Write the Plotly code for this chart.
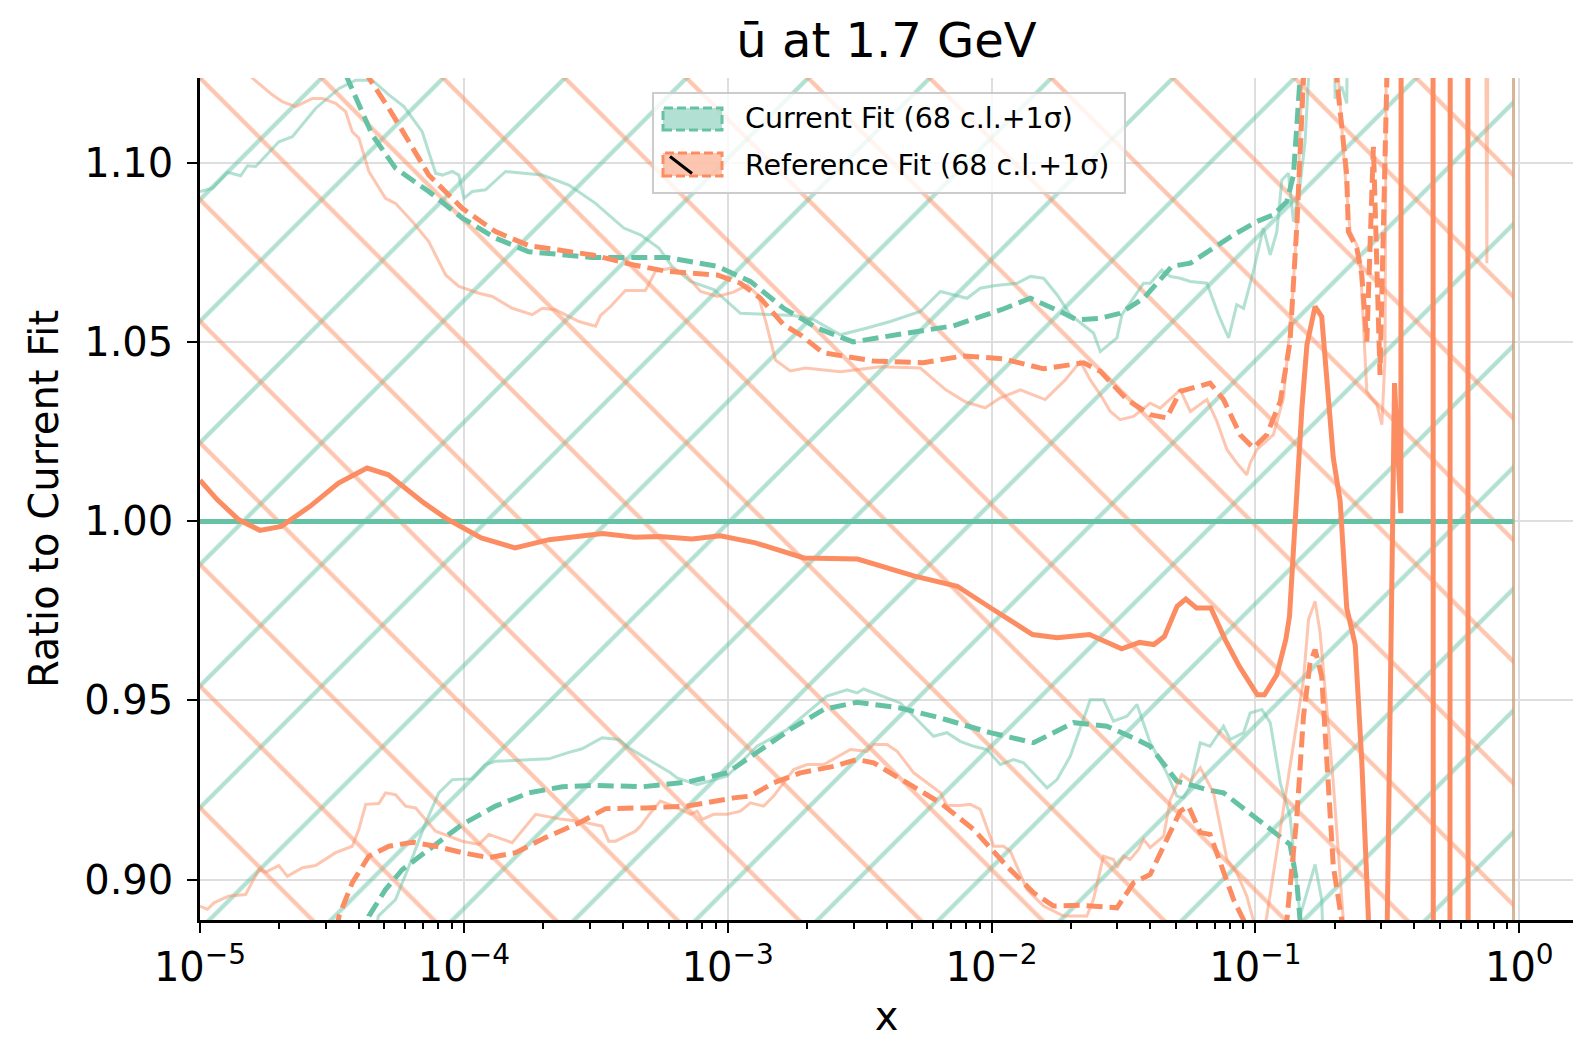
import numpy as np
import plotly.graph_objects as go

GREEN = "#66c2a5"
ORANGE = "#fc8d62"
GREEN_A = "rgba(102,194,165,0.5)"
ORANGE_A = "rgba(252,141,98,0.5)"

# ---------------- data (log10 x, ratio) ----------------
grid_logx = [-5.0, -0.022]          # first / last point of the x grid
cur_cv = [1.0, 1.0]                 # current fit ratio to itself
hatch_span = [0.0, 2.0]             # band envelope used for hatch fill

ref_cv_logx = [-5.0, -4.935, -4.854, -4.773, -4.692, -4.583, -4.475, -4.367, -4.286, -4.150,
               -4.069, -3.934, -3.806, -3.677, -3.474, -3.352, -3.258, -3.136, -3.028, -2.895,
               -2.711, -2.508, -2.292, -2.130, -1.994, -1.845, -1.751, -1.629, -1.507, -1.439,
               -1.385, -1.345, -1.297, -1.264, -1.223, -1.169, -1.115, -1.061, -0.993, -0.966,
               -0.919, -0.885, -0.871, -0.856, -0.843, -0.824, -0.805, -0.774, -0.749, -0.730,
               -0.705, -0.679, -0.654, -0.622, -0.597, -0.572, -0.535, -0.473, -0.449, -0.433,
               -0.334, -0.319, -0.270, -0.255, -0.202, -0.187, -0.022]
ref_cv = [1.0115, 1.0061, 1.0005, 0.9975, 0.9986, 1.0042, 1.0107, 1.0149, 1.0130, 1.0051,
          1.0009, 0.9954, 0.9926, 0.9949, 0.9966, 0.9956, 0.9958, 0.9951, 0.9960, 0.9940,
          0.9898, 0.9895, 0.9847, 0.9819, 0.9754, 0.9684, 0.9675, 0.9684, 0.9644, 0.9662,
          0.9656, 0.9679, 0.9763, 0.9783, 0.9758, 0.9758, 0.9670, 0.9595, 0.9516, 0.9516,
          0.9572, 0.9670, 0.9735, 0.9935, 1.0074, 1.0316, 1.0493, 1.0600, 1.0572, 1.0409,
          1.0177, 1.0056, 0.9758, 0.9656, 0.9330, 0.8893, 0.70, 1.0386, 1.0023, 3.0,
          3.0, -1.0, -1.0, 3.0, 3.0, -1.0, -1.0]

ref_up_logx = [-5.0, -4.448, -4.360, -4.284, -4.208, -4.133, -4.006, -3.880, -3.754, -3.514,
               -3.356, -3.230, -3.040, -2.952, -2.876, -2.788, -2.725, -2.639, -2.449, -2.259,
               -2.107, -1.956, -1.803, -1.651, -1.588, -1.487, -1.399, -1.336, -1.285, -1.209,
               -1.172, -1.121, -1.058, -1.008, -0.957, -0.906, -0.869, -0.843, -0.818, -0.793,
               -0.717, -0.692, -0.679, -0.654, -0.648, -0.616, -0.597, -0.578, -0.553, -0.528,
               -0.502, -0.482, -0.022]
ref_up = [1.30, 1.150, 1.1238, 1.1153, 1.1060, 1.0967, 1.0874, 1.0809, 1.0770, 1.0744,
          1.0716, 1.0698, 1.0688, 1.0665, 1.0623, 1.0549, 1.0521, 1.0471, 1.0448, 1.0443,
          1.0462, 1.0454, 1.0426, 1.0443, 1.0419, 1.0340, 1.0298, 1.0289, 1.0363, 1.0377,
          1.0386, 1.0340, 1.0242, 1.0205, 1.0242, 1.0335, 1.0502, 1.0828, 1.1238, 1.25,
          1.25, 1.1238, 1.1153, 1.0967, 1.0809, 1.0763, 1.0688, 1.0502, 1.1046, 1.0409,
          1.1238, 1.40, 1.40]

ref_dn_logx = [-5.0, -4.543, -4.473, -4.423, -4.360, -4.284, -4.195, -4.107, -4.006, -3.905,
               -3.804, -3.691, -3.564, -3.463, -3.312, -3.154, -2.977, -2.914, -2.826, -2.725,
               -2.598, -2.510, -2.447, -2.320, -2.194, -2.068, -1.942, -1.841, -1.765, -1.664,
               -1.525, -1.462, -1.399, -1.336, -1.285, -1.254, -1.209, -1.172, -1.121, -1.083,
               -1.045, -1.001, -0.925, -0.881, -0.843, -0.818, -0.793, -0.774, -0.749, -0.730,
               -0.705, -0.673, -0.649, -0.022]
ref_dn = [0.75, 0.86, 0.8898, 0.8991, 0.9065, 0.9093, 0.9104, 0.9093, 0.9075, 0.9061,
          0.9075, 0.9117, 0.9158, 0.9198, 0.9200, 0.9205, 0.9228, 0.9233, 0.9270, 0.9298,
          0.9316, 0.9335, 0.9326, 0.9270, 0.9214, 0.9140, 0.9037, 0.8963, 0.8926, 0.8928,
          0.8921, 0.8991, 0.9014, 0.9112, 0.9191, 0.9205, 0.9131, 0.9126, 0.9019, 0.8944,
          0.8887, 0.86, 0.86, 0.8887, 0.9177, 0.9456, 0.9605, 0.9642, 0.9568, 0.9316,
          0.9037, 0.8887, 0.80, 0.60]

cur_up_logx = [-5.0, -4.524, -4.442, -4.347, -4.259, -4.133, -4.006, -3.880, -3.754, -3.514,
               -3.230, -3.040, -2.914, -2.788, -2.661, -2.525, -2.335, -2.145, -1.956, -1.853,
               -1.740, -1.677, -1.588, -1.513, -1.424, -1.317, -1.247, -1.172, -1.083, -0.995,
               -0.932, -0.881, -0.856, -0.831, -0.808, -0.022]
cur_up = [1.30, 1.16, 1.1238, 1.1079, 1.0986, 1.0921, 1.0847, 1.0791, 1.0753, 1.0737,
          1.0737, 1.0712, 1.0670, 1.0595, 1.0540, 1.0501, 1.0524, 1.0546, 1.0593, 1.0623,
          1.0586, 1.0563, 1.0567, 1.0581, 1.0623, 1.0712, 1.0721, 1.0758, 1.0800, 1.0837,
          1.0856, 1.0893, 1.0967, 1.1238, 1.40, 1.40]

cur_dn_logx = [-5.0, -4.448, -4.360, -4.297, -4.233, -4.133, -4.006, -3.880, -3.754, -3.627,
               -3.501, -3.324, -3.154, -3.002, -2.889, -2.763, -2.636, -2.510, -2.346, -2.194,
               -2.005, -1.841, -1.689, -1.563, -1.449, -1.399, -1.298, -1.184, -1.121, -0.995,
               -0.869, -0.843, -0.831, -0.808, -0.022]
cur_dn = [0.75, 0.86, 0.8898, 0.8972, 0.9028, 0.9084, 0.9154, 0.9205, 0.9242, 0.9259,
          0.9263, 0.9259, 0.9272, 0.9298, 0.9354, 0.9419, 0.9475, 0.9495, 0.9479, 0.9451,
          0.9410, 0.9382, 0.9438, 0.9428, 0.9391, 0.9372, 0.9275, 0.9251, 0.9242, 0.9168,
          0.9098, 0.8991, 0.8887, 0.70, 0.60]

cur68_up_logx = [-5.0, -4.953, -4.896, -4.846, -4.820, -4.789, -4.701, -4.650, -4.562, -4.473,
                 -4.410, -4.347, -4.284, -4.227, -4.158, -4.107, -4.082, -4.044, -4.019, -4.000,
                 -3.968, -3.918, -3.842, -3.703, -3.602, -3.501, -3.394, -3.331, -3.261, -3.211,
                 -3.141, -3.053, -2.952, -2.851, -2.750, -2.674, -2.573, -2.472, -2.384, -2.270,
                 -2.194, -2.093, -2.043, -1.992, -1.904, -1.853, -1.803, -1.752, -1.702, -1.614,
                 -1.588, -1.525, -1.506, -1.424, -1.399, -1.355, -1.323, -1.285, -1.247, -1.184,
                 -1.140, -1.102, -1.071, -1.045, -1.008, -0.970, -0.944, -0.919, -0.900, -0.875,
                 -0.856, -0.831, -0.812, -0.799, -0.785, -0.717, -0.698, -0.673, -0.654, -0.638,
                 -0.022]
cur68_up = [1.0921, 1.0930, 1.0975, 1.0965, 1.0993, 1.0991, 1.1060, 1.1074, 1.1153, 1.1209,
            1.1232, 1.1232, 1.1191, 1.1158, 1.1088, 1.0972, 1.0967, 1.0977, 1.0967, 1.0902,
            1.0921, 1.0926, 1.0977, 1.0967, 1.0939, 1.0888, 1.0819, 1.0800, 1.0763, 1.0712,
            1.0670, 1.0647, 1.0581, 1.0579, 1.0575, 1.0563, 1.0521, 1.0540, 1.0558, 1.0586,
            1.0642, 1.0623, 1.0651, 1.0658, 1.0665, 1.0684, 1.0679, 1.0633, 1.0577, 1.0526,
            1.0474, 1.0512, 1.0577, 1.0665, 1.0665, 1.0702, 1.0684, 1.0679, 1.0670, 1.0665,
            1.0577, 1.0512, 1.0605, 1.0595, 1.0698, 1.0819, 1.0744, 1.0809, 1.0953, 1.0972,
            1.0837, 1.0939, 1.1060, 1.1238, 1.25, 1.25, 1.1181, 1.1214, 1.1167, 1.25,
            1.40]

cur68_dn_logx = [-5.0, -4.391, -4.324, -4.259, -4.208, -4.145, -4.095, -4.044, -3.968, -3.918,
                 -3.880, -3.678, -3.602, -3.552, -3.476, -3.413, -3.375, -3.312, -3.217, -3.192,
                 -3.116, -3.002, -2.889, -2.775, -2.624, -2.548, -2.510, -2.485, -2.447, -2.346,
                 -2.295, -2.220, -2.169, -2.119, -2.068, -2.017, -1.967, -1.917, -1.879, -1.790,
                 -1.752, -1.702, -1.626, -1.576, -1.538, -1.487, -1.449, -1.399, -1.336, -1.298,
                 -1.273, -1.247, -1.209, -1.172, -1.121, -1.096, -1.045, -1.020, -0.976, -0.944,
                 -0.906, -0.869, -0.831, -0.812, -0.774, -0.749, -0.732, -0.698, -0.022]
cur68_dn = [0.70, 0.86, 0.8898, 0.8944, 0.9037, 0.9158, 0.9242, 0.9279, 0.9281, 0.9321,
            0.9330, 0.9337, 0.9355, 0.9365, 0.9396, 0.9391, 0.9368, 0.9340, 0.9298, 0.9284,
            0.9265, 0.9289, 0.9372, 0.9419, 0.9512, 0.9530, 0.9521, 0.9532, 0.9521, 0.9493,
            0.9456, 0.9400, 0.9410, 0.9386, 0.9372, 0.9363, 0.9321, 0.9335, 0.9326, 0.9256,
            0.9279, 0.9344, 0.9502, 0.9502, 0.9442, 0.9456, 0.9489, 0.9382, 0.9298, 0.9233,
            0.9228, 0.9261, 0.9382, 0.9372, 0.9428, 0.9391, 0.9410, 0.9465, 0.9475, 0.9438,
            0.9270, 0.9177, 0.8898, 0.8944, 0.9042, 0.8944, 0.86, 0.70, 0.60]

ref68_up_logx = [-5.0, -4.846, -4.802, -4.726, -4.688, -4.638, -4.574, -4.536, -4.486, -4.448,
                 -4.423, -4.398, -4.360, -4.297, -4.259, -4.195, -4.133, -4.069, -4.019, -3.943,
                 -3.892, -3.817, -3.741, -3.703, -3.653, -3.564, -3.501, -3.482, -3.444, -3.388,
                 -3.312, -3.274, -3.217, -3.160, -3.103, -3.039, -2.978, -2.925, -2.884, -2.853,
                 -2.819, -2.763, -2.706, -2.573, -2.422, -2.270, -2.175, -2.100, -2.024, -1.967,
                 -1.891, -1.797, -1.721, -1.664, -1.626, -1.588, -1.550, -1.513, -1.462, -1.399,
                 -1.361, -1.285, -1.247, -1.184, -1.146, -1.108, -1.071, -1.033, -1.020, -0.995,
                 -0.932, -0.894, -0.862, -0.843, -0.824, -0.808, -0.709, -0.686, -0.660, -0.641,
                 -0.616, -0.603, -0.578, -0.566, -0.540, -0.521, -0.509, -0.502, -0.490, -0.145,
                 -0.123, -0.103, -0.022]
ref68_up = [1.30, 1.15, 1.1238, 1.1191, 1.1172, 1.1158, 1.1181, 1.1181, 1.1167, 1.1144,
            1.1088, 1.1070, 1.0977, 1.0902, 1.0888, 1.0837, 1.0781, 1.0688, 1.0656, 1.0637,
            1.0628, 1.0595, 1.0577, 1.0595, 1.0591, 1.0558, 1.0545, 1.0575, 1.0600, 1.0645,
            1.0645, 1.0698, 1.0707, 1.0690, 1.0642, 1.0628, 1.0640, 1.0660, 1.0630, 1.0550,
            1.0450, 1.0420, 1.0428, 1.0418, 1.0432, 1.0428, 1.0368, 1.0334, 1.0317, 1.0345,
            1.0367, 1.0340, 1.0395, 1.0446, 1.0395, 1.0354, 1.0307, 1.0284, 1.0293, 1.0330,
            1.0316, 1.0367, 1.0307, 1.0340, 1.0279, 1.0200, 1.0163, 1.0130, 1.0163, 1.0200,
            1.0242, 1.0344, 1.0595, 1.0828, 1.1238, 1.25, 1.25, 1.1238, 1.0967, 1.0809,
            1.0772, 1.0725, 1.0363, 1.0349, 1.0326, 1.0270, 1.0456, 1.1238, 1.40, 1.40,
            1.0721, 1.40, 1.40]

ref68_dn_logx = [-5.0, -4.972, -4.947, -4.890, -4.827, -4.777, -4.751, -4.701, -4.669, -4.612,
                 -4.562, -4.486, -4.423, -4.398, -4.372, -4.322, -4.297, -4.259, -4.221, -4.183,
                 -4.107, -4.006, -3.943, -3.905, -3.817, -3.728, -3.627, -3.564, -3.476, -3.451,
                 -3.425, -3.350, -3.331, -3.293, -3.255, -3.205, -3.141, -3.116, -3.097, -3.053,
                 -3.002, -2.952, -2.914, -2.864, -2.826, -2.750, -2.699, -2.636, -2.535, -2.472,
                 -2.447, -2.396, -2.358, -2.295, -2.194, -2.169, -2.119, -2.081, -2.043, -1.992,
                 -1.955, -1.929, -1.866, -1.803, -1.727, -1.639, -1.614, -1.576, -1.538, -1.525,
                 -1.500, -1.475, -1.443, -1.424, -1.399, -1.348, -1.323, -1.279, -1.247, -1.209,
                 -1.159, -1.108, -1.071, -1.033, -1.008, -0.982, -0.957, -0.906, -0.856, -0.818,
                 -0.799, -0.774, -0.755, -0.730, -0.705, -0.667, -0.641, -0.022]
ref68_dn = [0.8926, 0.8917, 0.8935, 0.8954, 0.8958, 0.9028, 0.9021, 0.9039, 0.9009, 0.9033,
            0.9039, 0.9075, 0.9093, 0.9140, 0.9210, 0.9212, 0.9242, 0.9237, 0.9205, 0.9200,
            0.9135, 0.9107, 0.9098, 0.9126, 0.9103, 0.9182, 0.9168, 0.9163, 0.9149, 0.9107,
            0.9107, 0.9135, 0.9149, 0.9186, 0.9219, 0.9205, 0.9182, 0.9191, 0.9168, 0.9182,
            0.9182, 0.9191, 0.9214, 0.9205, 0.9233, 0.9307, 0.9321, 0.9321, 0.9363, 0.9358,
            0.9377, 0.9377, 0.9358, 0.9298, 0.9242, 0.9207, 0.9207, 0.9210, 0.9196, 0.9093,
            0.9093, 0.9079, 0.8972, 0.8926, 0.8898, 0.8898, 0.8944, 0.9065, 0.9056, 0.9033,
            0.9065, 0.9056, 0.9084, 0.9112, 0.9089, 0.9121, 0.9223, 0.9293, 0.9275, 0.9312,
            0.9242, 0.9056, 0.9019, 0.8954, 0.8887, 0.880, 0.8898, 0.9140, 0.9382, 0.9558,
            0.9726, 0.9777, 0.9689, 0.9475, 0.9270, 0.8887, 0.80, 0.60]

# ---------------- axes ----------------
X_LOG_RANGE = [-5.0, 0.2034]
Y_RANGE = [0.8887, 1.1238]
y_ticks = [0.90, 0.95, 1.00, 1.05, 1.10]
x_decades = [-5, -4, -3, -2, -1, 0]


def X(lx):
    return list(np.power(10.0, np.asarray(lx, dtype=float)))


fig = go.Figure()

# hatched band fills (68 c.l. + 1 sigma envelopes)
hx = X([grid_logx[0], grid_logx[1], grid_logx[1], grid_logx[0]])
hy = [hatch_span[1], hatch_span[1], hatch_span[0], hatch_span[0]]
for shape, col in (("/", GREEN_A), ("\\", ORANGE_A)):
    fig.add_trace(go.Scatter(
        x=hx, y=hy, mode="lines", fill="toself", fillcolor="rgba(0,0,0,0)",
        fillpattern=dict(shape=shape, fgcolor=col, bgcolor="rgba(0,0,0,0)",
                         size=86, solidity=0.05, fgopacity=1),
        line=dict(color=col, width=3), hoverinfo="skip", showlegend=False))

thin = dict(width=3.0)
dash = "16px,7px"
LW = 5.0

# current fit
fig.add_trace(go.Scatter(x=X(cur68_up_logx), y=cur68_up, mode="lines",
                         line=dict(color=GREEN_A, **thin), showlegend=False))
fig.add_trace(go.Scatter(x=X(cur68_dn_logx), y=cur68_dn, mode="lines",
                         line=dict(color=GREEN_A, **thin), showlegend=False))
fig.add_trace(go.Scatter(x=X(cur_up_logx), y=cur_up, mode="lines",
                         line=dict(color=GREEN, width=LW, dash=dash), showlegend=False))
fig.add_trace(go.Scatter(x=X(cur_dn_logx), y=cur_dn, mode="lines",
                         line=dict(color=GREEN, width=LW, dash=dash), showlegend=False))
fig.add_trace(go.Scatter(x=X(grid_logx), y=cur_cv, mode="lines",
                         line=dict(color=GREEN, width=LW), showlegend=False))

# reference fit
fig.add_trace(go.Scatter(x=X(ref68_up_logx), y=ref68_up, mode="lines",
                         line=dict(color=ORANGE_A, **thin), showlegend=False))
fig.add_trace(go.Scatter(x=X(ref68_dn_logx), y=ref68_dn, mode="lines",
                         line=dict(color=ORANGE_A, **thin), showlegend=False))
fig.add_trace(go.Scatter(x=X(ref_up_logx), y=ref_up, mode="lines",
                         line=dict(color=ORANGE, width=LW, dash=dash), showlegend=False))
fig.add_trace(go.Scatter(x=X(ref_dn_logx), y=ref_dn, mode="lines",
                         line=dict(color=ORANGE, width=LW, dash=dash), showlegend=False))
fig.add_trace(go.Scatter(x=X(ref_cv_logx), y=ref_cv, mode="lines",
                         line=dict(color=ORANGE, width=LW), showlegend=False))

# ---------------- layout ----------------
L, R, T, B = 200, 0, 78, 119
W, H = 1573, 1039
PW, PH = W - L - R, H - T - B


def px(x):
    return (x - L) / PW


def py(y):
    return (H - B - y) / PH


minor_vals = [k * 10.0 ** e for e in range(-5, 1) for k in range(2, 10)]

fig.update_layout(
    width=W, height=H,
    margin=dict(l=L, r=R, t=T, b=B, autoexpand=False),
    paper_bgcolor="white", plot_bgcolor="white",
    font=dict(family="DejaVu Sans", color="black"),
    showlegend=False,
    title=dict(text="ū at 1.7 GeV", x=0.5, xref="paper", xanchor="center",
               y=1 - 40 / H, yref="container", yanchor="middle",
               font=dict(size=48, family="DejaVu Sans", color="black")),
    xaxis=dict(type="log", range=X_LOG_RANGE,
               tickvals=[10.0 ** d for d in x_decades],
               ticktext=["10<sup>%s</sup>" % (str(d).replace("-", "\u2212")) for d in x_decades],
               ticks="outside", ticklen=10, tickwidth=2, tickcolor="black",
               showline=True, linecolor="black", linewidth=2.5,
               showgrid=True, gridcolor="#dedede", gridwidth=1.5, zeroline=False,
               tickfont=dict(size=40),
               minor=dict(tickvals=minor_vals, ticks="outside", ticklen=6, tickwidth=1.5,
                          tickcolor="black", showgrid=False),
               title=dict(text="x", font=dict(size=40), standoff=16),
               automargin=False),
    yaxis=dict(range=Y_RANGE, tickvals=y_ticks, tickformat=".2f",
               ticks="outside", ticklen=10, tickwidth=2, tickcolor="black",
               ticklabelstandoff=6,
               showline=True, linecolor="black", linewidth=2.5,
               showgrid=True, gridcolor="#dedede", gridwidth=1.5, zeroline=False,
               tickfont=dict(size=40),
               title=dict(text="Ratio to Current Fit", font=dict(size=40), standoff=14),
               automargin=False),
)

# ---------------- legend (drawn as patches + text) ----------------
shapes = [
    dict(type="rect", xref="paper", yref="paper", x0=px(653), x1=px(1125), y0=py(193), y1=py(93),
         fillcolor="rgba(255,255,255,0.8)", line=dict(color="#cccccc", width=2), layer="above"),
    dict(type="rect", xref="paper", yref="paper", x0=px(663), x1=px(722), y0=py(130), y1=py(108),
         fillcolor=GREEN_A, line=dict(color=GREEN, width=3, dash="9px,4px"), layer="above"),
    dict(type="rect", xref="paper", yref="paper", x0=px(663), x1=px(722), y0=py(176), y1=py(153),
         fillcolor=ORANGE_A, line=dict(color=ORANGE, width=3, dash="9px,4px"), layer="above"),
    dict(type="line", xref="paper", yref="paper", x0=px(670), x1=px(692), y0=py(156.5), y1=py(173.5),
         line=dict(color="black", width=3), layer="above"),
]
fig.update_layout(shapes=shapes)
for label, ycen in (("Current Fit (68 c.l.+1σ)", 118), ("Reference Fit (68 c.l.+1σ)", 165)):
    fig.add_annotation(text=label, xref="paper", yref="paper", x=px(743), y=py(ycen),
                       xanchor="left", yanchor="middle", showarrow=False,
                       font=dict(size=28.5, family="DejaVu Sans", color="black"))

fig.write_html("out.html")
